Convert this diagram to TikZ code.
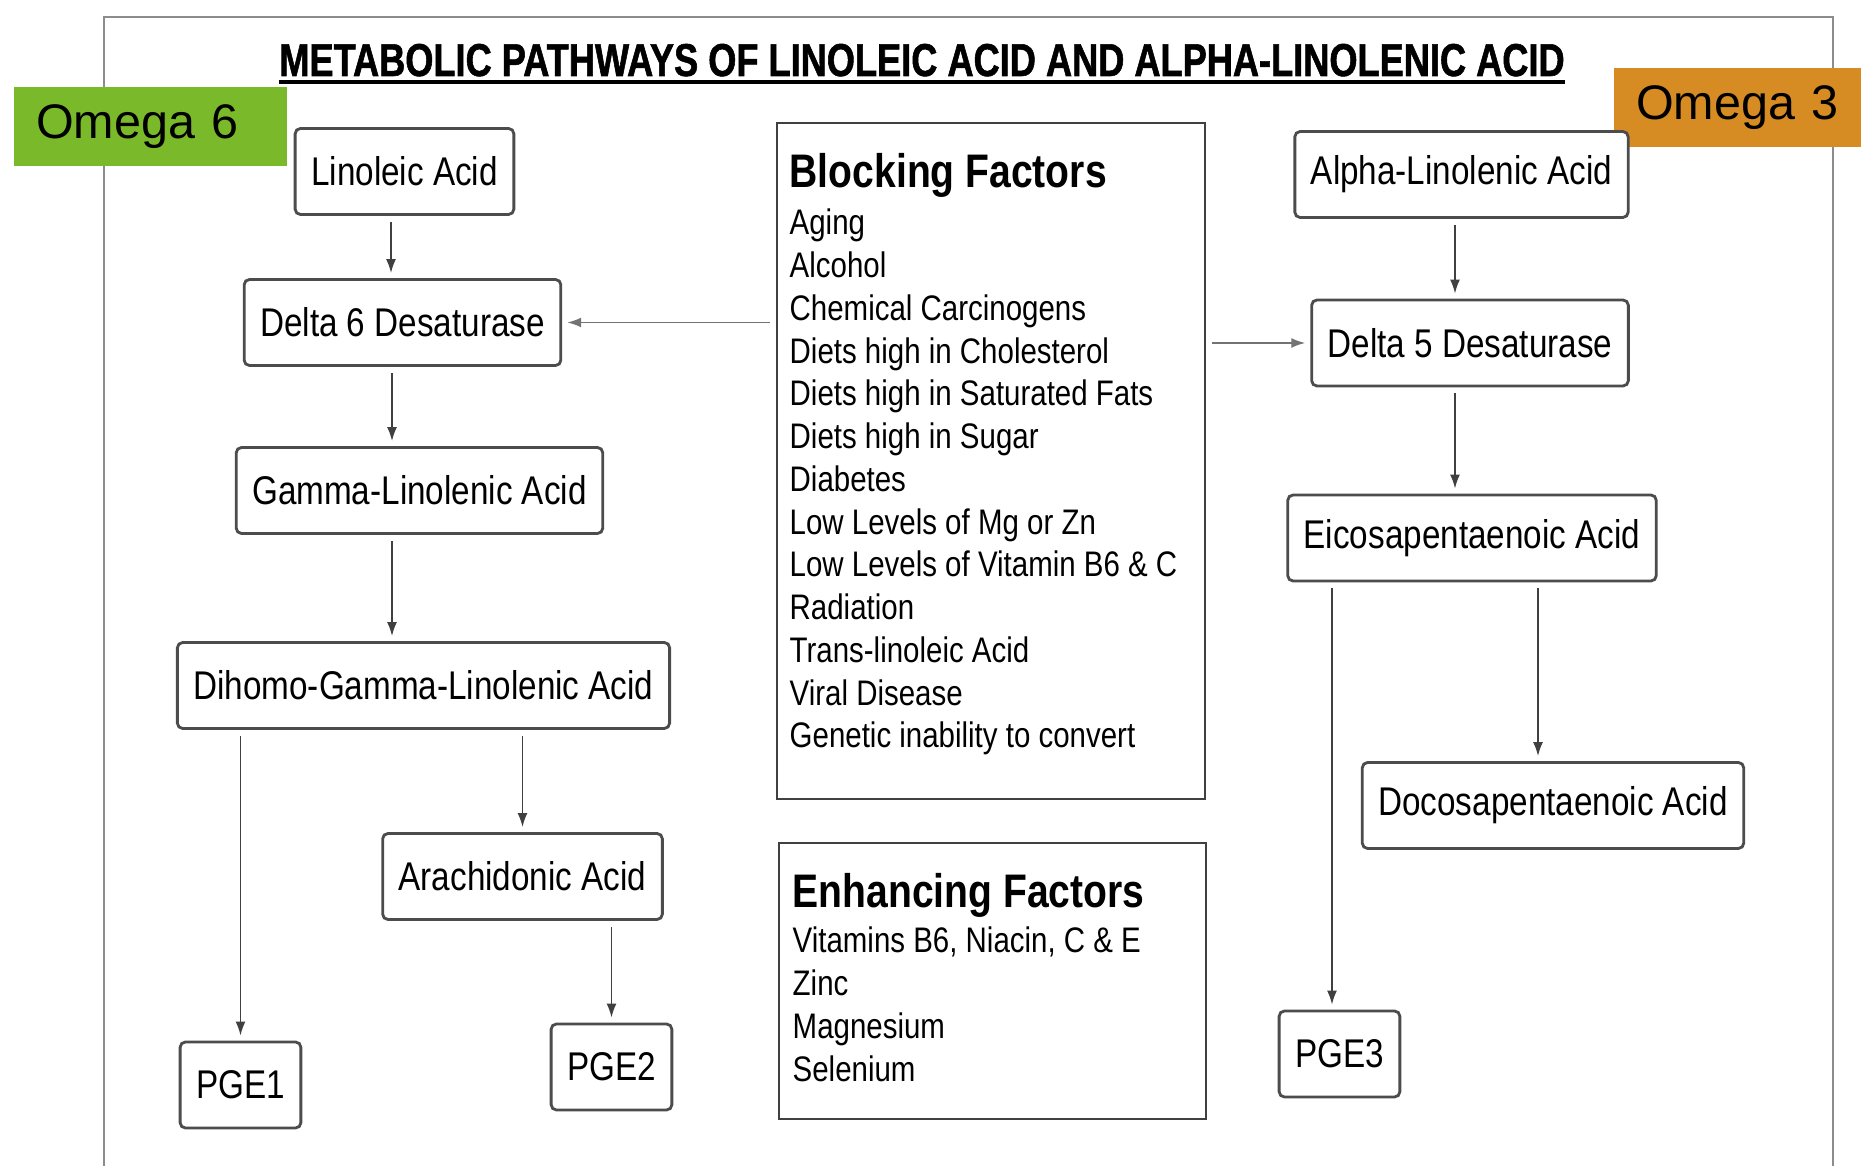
\documentclass[tikz,border=0pt]{standalone}
\usepackage{fontspec}
\setmainfont{Liberation Sans}
\newfontfamily\narrowsf[FakeStretch=0.83]{Liberation Sans}
\newfontfamily\titlesf[FakeStretch=0.786, BoldFeatures={FakeBold=1.2}]{Liberation Sans}
\usepackage{tikz}
\usetikzlibrary{
  arrows.meta,
  positioning,
  calc
}

\definecolor{omegasix}{RGB}{122,186,42}
\definecolor{omegathree}{RGB}{214,140,34}

\tikzset{
  acid/.style={draw=black!70, line width=0.8pt, rounded corners=1.5pt, fill=white,
    inner xsep=0.16cm, minimum height=0.86cm, font=\narrowsf\fontsize{11.4}{13}\selectfont},
  factorbox/.style={draw=black!75, line width=0.8pt},
  factorhead/.style={anchor=base west, inner sep=0, font=\narrowsf\bfseries\fontsize{13.4}{16}\selectfont},
  factoritem/.style={anchor=base west, inner sep=0, font=\narrowsf\fontsize{10.1}{12}\selectfont},
  omegatag/.style={inner xsep=0.22cm, inner ysep=0, minimum height=0.79cm, align=left,
    font=\fontsize{13.8}{16}\selectfont},
  flow/.style={draw=black!75, line width=0.5pt, shorten <=0.6mm, shorten >=0.5mm,
    -{Latex[length=1.4mm,width=1mm]}}
}

\begin{document}
\begin{tikzpicture}
\useasboundingbox (0,0) rectangle (18.61,11.66);
% outer frame, open at the bottom
\draw[black!45, line width=0.7pt] (1.04,0) -- (1.04,11.49) -- (18.33,11.49) -- (18.33,0);

% title
\node[inner sep=0, anchor=base, font=\titlesf\bfseries\fontsize{13.1}{15}\selectfont] (title) at (9.22,10.90)
  {METABOLIC PATHWAYS OF LINOLEIC ACID AND ALPHA-LINOLENIC ACID};
\draw[line width=1.1pt] ([yshift=-0.6mm]title.base west) -- ([yshift=-0.6mm]title.base east);

% omega tags
\node[omegatag, fill=omegasix, text width=2.29cm] (o6) at (1.505,10.395) {Omega 6};
\node[omegatag, fill=omegathree, text width=2.03cm] (o3) at (17.375,10.585) {Omega 3};

% omega 6 pathway
\node[acid] (lin) at (4.045,9.945) {Linoleic Acid};
\node[acid] (d6) at (4.025,8.435) {Delta 6 Desaturase};
\node[acid] (gla) at (4.195,6.755) {Gamma-Linolenic Acid};
\node[acid] (dgla) at (4.235,4.805) {Dihomo-Gamma-Linolenic Acid};
\node[acid] (aa) at (5.225,2.895) {Arachidonic Acid};
\node[acid] (pge1) at (2.405,0.81) {PGE1};
\node[acid] (pge2) at (6.115,0.99) {PGE2};

% omega 3 pathway
\node[acid] (ala) at (14.615,9.915) {Alpha-Linolenic Acid};
\node[acid] (d5) at (14.70,8.23) {Delta 5 Desaturase};
\node[acid] (epa) at (14.72,6.28) {Eicosapentaenoic Acid};
\node[acid] (dpa) at (15.53,3.605) {Docosapentaenoic Acid};
\node[acid] (pge3) at (13.395,1.12) {PGE3};

% factor boxes
\node[factorbox, minimum width=4.28cm, minimum height=6.76cm] (block) at (9.91,7.05) {};
\node[factorhead] (blockhead) at (7.89,9.78) {Blocking Factors};
\foreach \txt [count=\i] in {Aging, Alcohol, Chemical Carcinogens, Diets high in Cholesterol,
    Diets high in Saturated Fats, Diets high in Sugar, Diabetes, Low Levels of Mg or Zn,
    Low Levels of Vitamin B6 \& C, Radiation, Trans-linoleic Acid, Viral Disease,
    Genetic inability to convert}{
  \node[factoritem] (blk\i) at (7.89,{9.31-0.4275*(\i-1)}) {\txt};
}

\node[factorbox, minimum width=4.27cm, minimum height=2.76cm] (enh) at (9.925,1.85) {};
\node[factorhead] (enhhead) at (7.92,2.58) {Enhancing Factors};
\foreach \txt [count=\i] in {{Vitamins B6, Niacin, C \& E}, Zinc, Magnesium, Selenium}{
  \node[factoritem] (enh\i) at (7.92,{2.13-0.43*(\i-1)}) {\txt};
}

% arrows, omega 6 side
\draw[flow] ([xshift=-1.35mm]lin.south) -- ([xshift=-1.35mm]lin.south |- d6.north);
\draw[flow] ([xshift=-1.05mm]d6.south) -- ([xshift=-1.05mm]d6.south |- gla.north);
\draw[flow] ([xshift=-2.75mm]gla.south) -- ([xshift=-2.75mm]gla.south |- dgla.north);
\draw[flow] (pge1.north |- dgla.south) -- (pge1.north);
\draw[flow] (aa.north |- dgla.south) -- (aa.north);
\draw[flow] (pge2.north |- aa.south) -- (pge2.north);

% blocking factors act on both desaturases
\draw[flow, draw=black!55] (block.west |- d6.east) -- (d6.east);
\draw[flow, draw=black!55] (block.east |- d5.west) -- (d5.west);

% arrows, omega 3 side
\draw[flow] ([xshift=-0.65mm]ala.south) -- ([xshift=-0.65mm]ala.south |- d5.north);
\draw[flow] ([xshift=-1.5mm]d5.south) -- ([xshift=-1.5mm]d5.south |- epa.north);
\draw[flow] ([xshift=-1.5mm]dpa.north |- epa.south) -- ([xshift=-1.5mm]dpa.north);
\draw[flow] ([xshift=-0.75mm]pge3.north |- epa.south) -- ([xshift=-0.75mm]pge3.north);
\end{tikzpicture}
\end{document}
